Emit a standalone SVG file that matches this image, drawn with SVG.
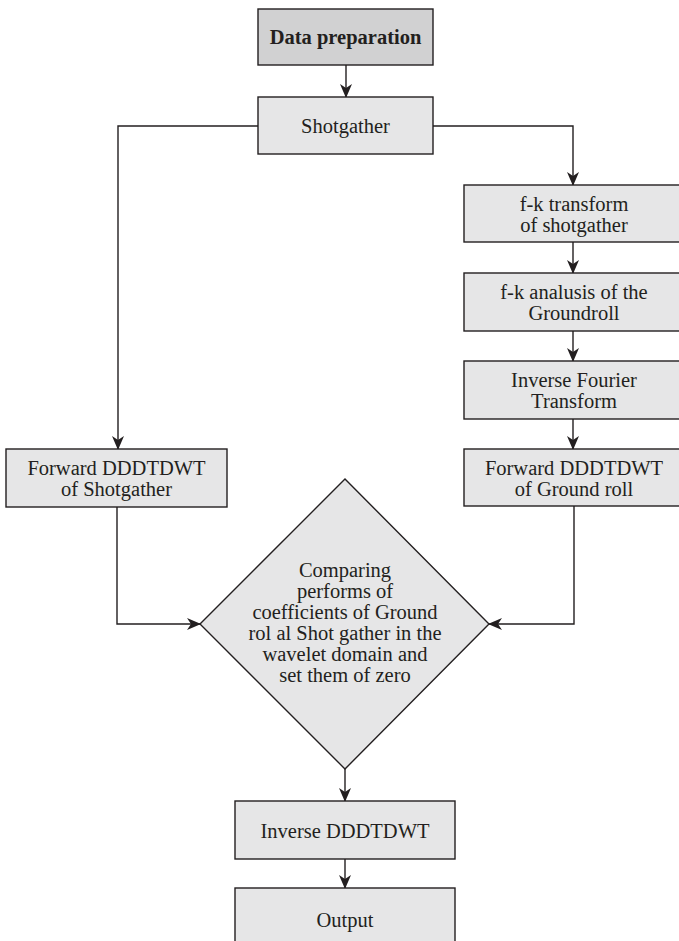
<svg xmlns="http://www.w3.org/2000/svg" width="679" height="941" viewBox="0 0 679 941">
<defs>
<marker id="ah" markerUnits="userSpaceOnUse" markerWidth="14" markerHeight="12" viewBox="0 0 14 12" refX="13" refY="6" orient="auto">
<path d="M0,0 L14,6 L0,12 L4,6 z" fill="#231f20"/>
</marker>
</defs>
<style>
.box{fill:#e6e6e7;stroke:#231f20;stroke-width:1.4}
.dark{fill:#d1d1d2}
.t{font-family:"Liberation Serif","Times New Roman",serif;font-size:20.5px;fill:#231f20;text-anchor:middle}
.b{font-weight:bold}
.c{fill:none;stroke:#231f20;stroke-width:1.4;marker-end:url(#ah)}
</style>
<rect width="679" height="941" fill="#ffffff"/>
<g id="connectors">
<path class="c" d="M346,65 V97"/>
<path class="c" d="M258,126 H118 V449"/>
<path class="c" d="M433,126 H573 V185"/>
<path class="c" d="M573,242 V273"/>
<path class="c" d="M573,331 V361"/>
<path class="c" d="M573,419 V449"/>
<path class="c" d="M117,507 V624 H200"/>
<path class="c" d="M574,506 V624 H489"/>
<path class="c" d="M345,769 V801"/>
<path class="c" d="M345,859 V888"/>
</g>
<g id="data-preparation">
<rect class="box dark" x="258" y="9" width="175" height="56"/>
<text class="t b" x="345.5" y="44">Data preparation</text>
</g>
<g id="shotgather">
<rect class="box" x="258" y="97" width="175" height="57"/>
<text class="t" x="345.5" y="133">Shotgather</text>
</g>
<g id="fk-transform">
<rect class="box" x="464" y="185" width="221" height="57"/>
<text class="t" x="574" y="211">f-k transform</text>
<text class="t" x="574" y="232">of shotgather</text>
</g>
<g id="fk-analysis">
<rect class="box" x="464" y="273" width="221" height="58"/>
<text class="t" x="574" y="299">f-k analusis of the</text>
<text class="t" x="574" y="320">Groundroll</text>
</g>
<g id="inverse-fourier">
<rect class="box" x="464" y="361" width="221" height="58"/>
<text class="t" x="574" y="387">Inverse Fourier</text>
<text class="t" x="574" y="408">Transform</text>
</g>
<g id="forward-ground-roll">
<rect class="box" x="464" y="449" width="221" height="57"/>
<text class="t" x="574" y="475">Forward DDDTDWT</text>
<text class="t" x="574" y="496">of Ground roll</text>
</g>
<g id="forward-shotgather">
<rect class="box" x="6" y="449" width="221" height="58"/>
<text class="t" x="116.5" y="475">Forward DDDTDWT</text>
<text class="t" x="116.5" y="496">of Shotgather</text>
</g>
<g id="comparing">
<polygon class="box" points="345,479 489,624 345,769 200,624"/>
<text class="t" x="345" y="577">Comparing</text>
<text class="t" x="345" y="598">performs of</text>
<text class="t" x="345" y="619">coefficients of Ground</text>
<text class="t" x="345" y="640">rol al Shot gather in the</text>
<text class="t" x="345" y="661">wavelet domain and</text>
<text class="t" x="345" y="682">set them of zero</text>
</g>
<g id="inverse-dddtdwt">
<rect class="box" x="235" y="801" width="220" height="58"/>
<text class="t" x="345" y="838">Inverse DDDTDWT</text>
</g>
<g id="output">
<rect class="box" x="235" y="888" width="220" height="60"/>
<text class="t" x="345" y="927">Output</text>
</g>
</svg>
